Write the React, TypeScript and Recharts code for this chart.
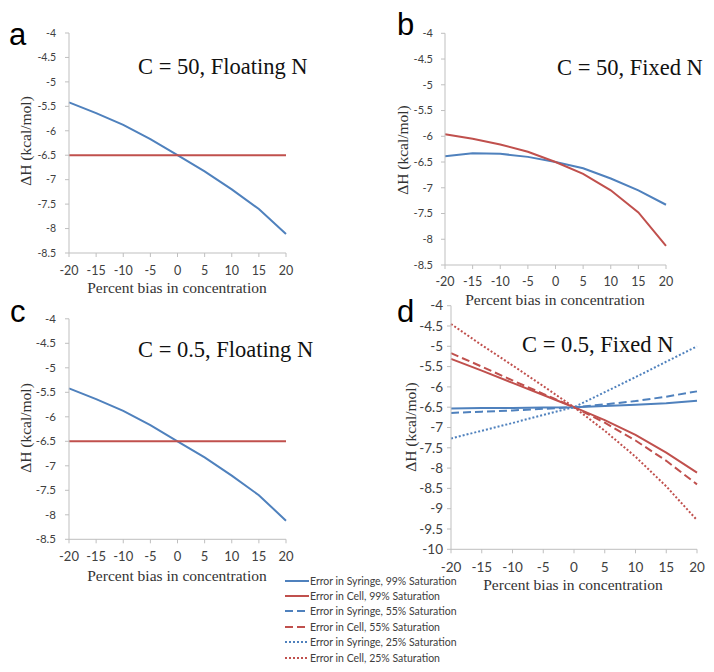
import React from 'react';
import { LineChart, Line, XAxis, YAxis, Legend } from 'recharts';

const W = 714;
const H = 672;
const BLUE = '#4f81bd';
const RED = '#c0504d';
const AXIS = '#bfbfbf';
const TXT = '#404040';
const YW = 40;
const XH = 30;

// ---------- data ----------
const biasValues = [-20, -15, -10, -5, 0, 5, 10, 15, 20];
const xTicks = [-20, -15, -10, -5, 0, 5, 10, 15, 20];
const yTicksTop = [-8.5, -8, -7.5, -7, -6.5, -6, -5.5, -5, -4.5, -4];
const yTicksD = [-10, -9.5, -9, -8.5, -8, -7.5, -7, -6.5, -6, -5.5, -5, -4.5, -4];

// panel a: C = 50, Floating N
const aSyringe = [-5.42, -5.64, -5.88, -6.17, -6.5, -6.83, -7.2, -7.6, -8.11];
const aCell = [-6.5, -6.5, -6.5, -6.5, -6.5, -6.5, -6.5, -6.5, -6.5];
// panel b: C = 50, Fixed N
const bSyringe = [-6.39, -6.33, -6.34, -6.4, -6.5, -6.62, -6.82, -7.05, -7.33];
const bCell = [-5.96, -6.05, -6.16, -6.3, -6.5, -6.73, -7.05, -7.48, -8.13];
// panel c: C = 0.5, Floating N
const cSyringe = [-5.42, -5.64, -5.88, -6.17, -6.5, -6.83, -7.2, -7.6, -8.12];
const cCell = [-6.5, -6.5, -6.5, -6.5, -6.5, -6.5, -6.5, -6.5, -6.5];
// panel d: C = 0.5, Fixed N
const dSyr99 = [-6.53, -6.52, -6.52, -6.51, -6.5, -6.47, -6.44, -6.4, -6.34];
const dCell99 = [-5.31, -5.6, -5.9, -6.2, -6.5, -6.82, -7.18, -7.62, -8.11];
const dSyr55 = [-6.64, -6.61, -6.58, -6.54, -6.5, -6.43, -6.35, -6.24, -6.11];
const dCell55 = [-5.17, -5.5, -5.84, -6.17, -6.5, -6.88, -7.32, -7.82, -8.4];
const dSyr25 = [-7.27, -7.08, -6.89, -6.69, -6.5, -6.13, -5.76, -5.38, -5.0];
const dCell25 = [-4.45, -4.97, -5.47, -5.98, -6.5, -7.08, -7.72, -8.45, -9.28];

const seriesNames = [
  'Error in Syringe, 99% Saturation',
  'Error in Cell, 99% Saturation',
  'Error in Syringe, 55% Saturation',
  'Error in Cell, 55% Saturation',
  'Error in Syringe, 25% Saturation',
  'Error in Cell, 25% Saturation',
];

const twoRows = (s: number[], c: number[]) =>
  biasValues.map((x, i) => ({ x, syr: s[i], cell: c[i] }));

const aData = twoRows(aSyringe, aCell);
const bData = twoRows(bSyringe, bCell);
const cData = twoRows(cSyringe, cCell);
const dData = biasValues.map((x, i) => ({
  x,
  s99: dSyr99[i],
  c99: dCell99[i],
  s55: dSyr55[i],
  c55: dCell55[i],
  s25: dSyr25[i],
  c25: dCell25[i],
}));

const DASH = '8 4';
const DOT = '2 2';

const twoLines = [
  { key: 'syr', color: BLUE, dash: undefined as string | undefined, name: 'Error in Syringe' },
  { key: 'cell', color: RED, dash: undefined as string | undefined, name: 'Error in Cell' },
];
const dLines = [
  { key: 's99', color: BLUE, dash: undefined as string | undefined, name: seriesNames[0] },
  { key: 'c99', color: RED, dash: undefined as string | undefined, name: seriesNames[1] },
  { key: 's55', color: BLUE, dash: DASH, name: seriesNames[2] },
  { key: 'c55', color: RED, dash: DASH, name: seriesNames[3] },
  { key: 's25', color: BLUE, dash: DOT, name: seriesNames[4] },
  { key: 'c25', color: RED, dash: DOT, name: seriesNames[5] },
];

const LegendContent = (props: any) => {
  const payload: any[] = props.payload || [];
  return (
    <div style={{ fontFamily: 'Lato, sans-serif', fontSize: 10.5, color: TXT }}>
      {dLines.map((cfg, i) => {
        const e = payload.find((p) => p.dataKey === cfg.key) || { color: cfg.color, value: cfg.name };
        return (
          <div key={i} style={{ display: 'flex', alignItems: 'center', height: 15.4 }}>
            <svg width={24} height={6} style={{ display: 'block' }}>
              <line x1={0} x2={24} y1={3} y2={3} stroke={e.color} strokeWidth={2} strokeDasharray={cfg.dash} />
            </svg>
            <span style={{ marginLeft: 1, whiteSpace: 'nowrap' }}>{e.value}</span>
          </div>
        );
      })}
    </div>
  );
};

type PanelProps = {
  box: [number, number, number, number];
  data: any[];
  lines: { key: string; color: string; dash?: string; name: string }[];
  yDomain: [number, number];
  yTicks: number[];
  xFont: number;
  yFont: number;
  xGap: number;
  yGap: number;
  legend?: boolean;
};

function Panel({ box, data, lines, yDomain, yTicks, xFont, yFont, xGap, yGap, legend }: PanelProps) {
  const [x0, x1, y0, y1] = box;
  return (
    <div style={{ position: 'absolute', left: 0, top: 0 }}>
      <LineChart
        width={W}
        height={H}
        data={data}
        margin={{ left: x0 - YW, right: W - x1, top: y0, bottom: H - y1 - XH }}
      >
        <XAxis
          dataKey="x"
          type="number"
          domain={[-20, 20]}
          ticks={xTicks}
          interval={0}
          height={XH}
          axisLine={{ stroke: AXIS }}
          tickLine={{ stroke: AXIS }}
          tickSize={4}
          tickMargin={xGap - 4}
          tick={{ fontSize: xFont, fill: TXT, fontFamily: 'Lato, sans-serif' }}
        />
        <YAxis
          type="number"
          domain={yDomain}
          ticks={yTicks}
          interval={0}
          width={YW}
          axisLine={{ stroke: AXIS }}
          tickLine={{ stroke: AXIS }}
          tickSize={4}
          tickMargin={yGap - 4}
          tick={{ fontSize: yFont, fill: TXT, fontFamily: 'Lato, sans-serif' }}
        />
        {lines.map((l) => (
          <Line
            key={l.key}
            dataKey={l.key}
            name={l.name}
            type="linear"
            stroke={l.color}
            strokeWidth={2}
            strokeDasharray={l.dash}
            dot={false}
            activeDot={false}
            isAnimationActive={false}
          />
        ))}
        {legend && (
          <Legend
            layout="vertical"
            align="center"
            verticalAlign="middle"
            wrapperStyle={{ left: 285, top: 573, width: 220, height: 95 }}
            content={LegendContent}
          />
        )}
      </LineChart>
    </div>
  );
}

const serif = 'Liberation Serif, serif';
const sans = 'Liberation Sans, sans-serif';

const yTitles = [
  { x: 31, y: 141 },
  { x: 408, y: 150 },
  { x: 31, y: 428 },
  { x: 416, y: 427 },
];
const xTitles = [
  { x: 177, y: 293 },
  { x: 555, y: 305 },
  { x: 177, y: 581 },
  { x: 573, y: 590 },
];
const notes = [
  { x: 138, y: 74, t: 'C = 50, Floating N' },
  { x: 557, y: 75, t: 'C = 50, Fixed N' },
  { x: 138, y: 357, t: 'C = 0.5, Floating N' },
  { x: 522, y: 352, t: 'C = 0.5, Fixed N' },
];
const letters = [
  { x: 9, y: 45, t: 'a' },
  { x: 397, y: 35, t: 'b' },
  { x: 10, y: 322, t: 'c' },
  { x: 397, y: 322, t: 'd' },
];

export default function App() {
  return (
    <div style={{ position: 'absolute', left: 0, top: 0, width: W, height: H, background: '#fff', overflow: 'hidden' }}>
      <Panel box={[69, 286, 33, 253]} data={aData} lines={twoLines} yDomain={[-8.5, -4]} yTicks={yTicksTop} xFont={12.5} yFont={10.5} xGap={13.6} yGap={13} />
      <Panel box={[445, 666, 33.3, 265]} data={bData} lines={twoLines} yDomain={[-8.5, -4]} yTicks={yTicksTop} xFont={12.5} yFont={11} xGap={12} yGap={12} />
      <Panel box={[69, 286, 318.8, 539.3]} data={cData} lines={twoLines} yDomain={[-8.5, -4]} yTicks={yTicksTop} xFont={13} yFont={11.5} xGap={12.8} yGap={13} />
      <Panel box={[451, 697, 305.7, 549.3]} data={dData} lines={dLines} yDomain={[-10, -4]} yTicks={yTicksD} xFont={13.5} yFont={13.5} xGap={13.2} yGap={8} legend />
      <svg width={W} height={H} style={{ position: 'absolute', left: 0, top: 0, pointerEvents: 'none' }}>
        {letters.map((l) => (
          <text key={l.t} x={l.x} y={l.y} fontFamily={sans} fontSize={31} fill="#000">
            {l.t}
          </text>
        ))}
        {notes.map((n) => (
          <text key={n.t} x={n.x} y={n.y} fontFamily={serif} fontSize={22.5} fill="#111">
            {n.t}
          </text>
        ))}
        {xTitles.map((p, i) => (
          <text key={i} x={p.x} y={p.y} textAnchor="middle" fontFamily={serif} fontSize={15.5} fill="#333">
            Percent bias in concentration
          </text>
        ))}
        {yTitles.map((p, i) => (
          <text key={i} x={p.x} y={p.y} textAnchor="middle" fontFamily={serif} fontSize={15.5} fill="#333" transform={`rotate(-90 ${p.x} ${p.y})`}>
            ΔH (kcal/mol)
          </text>
        ))}
      </svg>
    </div>
  );
}
